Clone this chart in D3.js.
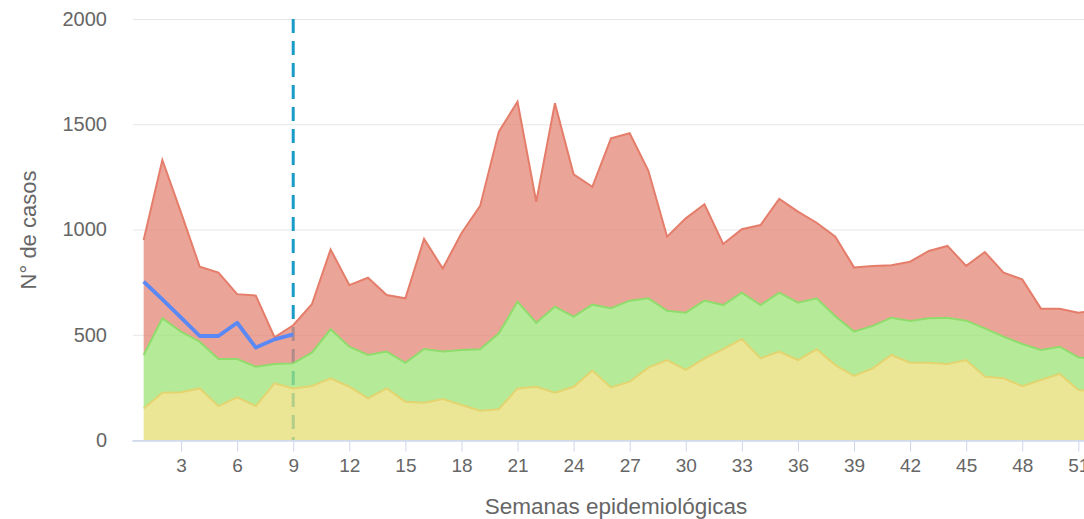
<!DOCTYPE html>
<html>
<head>
<meta charset="utf-8">
<script src="https://cdn.jsdelivr.net/npm/d3@7"></script>
<style>
  body { margin: 0; background: #fff; overflow: hidden; }
  svg { display: block; font-family: "Liberation Sans", Arial, sans-serif; }
</style>
</head>
<body>
<svg id="chart"></svg>
<script>
// semanas 1..52
const weeks = d3.range(1, 53)

// zona de exito (amarillo), seguridad (verde), alarma (rojo)
const exito = [150,225,227,245,161,203,161,269,245,256, 293,253,198,245,182,177,195,166,139,146,
  245,253,225,253,330,250,277,344,380,333, 388,432,480,388,420,380,431,356,304,340,
  404,367,367,361,380,301,293,256,285,314, 238,228]
const seguridad = [404,578,515,467,385,385,348,361,364,415, 526,443,404,420,367,432,420,428,431,507,
  657,557,633,586,643,626,662,673,614,605, 662,641,700,641,700,652,673,588,515,542,
  581,565,578,581,567,530,491,456,428,443, 393,382]
const alarma = [950,1330,1080,823,795,693,686,488,545,645, 905,736,771,689,673,955,815,982,1112,1465,
  1607,1132,1600,1262,1203,1433,1457,1279,966,1053, 1120,931,1001,1021,1145,1085,1032,966,820,827,
  830,847,898,922,827,893,795,763,624,624, 605,615]

// casos del año actual
const casosWeeks = [1,2,3,4,5,6,7,8,9]
const casos = [752,668,581,494,494,557,439,478,502]

const xTicks = [3,6,9,12,15,18,21,24,27,30,33,36,39,42,45,48,51]
const yTicks = [0,500,1000,1500,2000]
const semanaActual = 9

let width = 1084
let height = 519

let svg = d3.select('#chart').attr('width', width).attr('height', height)

let xScale = d3.scaleLinear().domain([0.36, 52.64]).range([131.7, 1109])
let yScale = d3.scaleLinear().domain([0, 2000]).range([440, 19])

// grid + y labels
let yAxis = d3.axisLeft(yScale)
  .tickValues(yTicks)
  .tickSizeInner(-(1109 - 133))
  .tickSizeOuter(0)
  .tickPadding(26)
  .tickFormat(d3.format('d'))

let gy = svg.append('g')
  .attr('transform', 'translate(133,0)')
  .call(yAxis)
gy.select('.domain').remove()
gy.selectAll('line').attr('stroke', '#e6e6e6')
gy.selectAll('text')
  .attr('fill', '#666')
  .style('font-size', '20px')

// dashed marker for current week
svg.append('line')
  .attr('x1', xScale(semanaActual)).attr('x2', xScale(semanaActual))
  .attr('y1', yScale(2000)).attr('y2', yScale(0))
  .attr('stroke', '#1b9bc8')
  .attr('stroke-width', 3)
  .attr('stroke-dasharray', '14,8')

let bands = [
  { lo: seguridad, hi: alarma, fill: '#e48575', stroke: '#e57d6b' },
  { lo: exito, hi: seguridad, fill: '#9ce377', stroke: '#8fdc6c' },
  { lo: null, hi: exito, fill: '#e4dd72', stroke: '#e3d470' }
]

bands.forEach(b => {
  let area = d3.area()
    .x((d, i) => xScale(weeks[i]))
    .y0((d, i) => yScale(b.lo ? b.lo[i] : 0))
    .y1((d, i) => yScale(b.hi[i]))
  svg.append('path')
    .datum(b.hi)
    .attr('d', area)
    .attr('fill', b.fill)
    .attr('fill-opacity', 0.75)

  let line = d3.line()
    .x((d, i) => xScale(weeks[i]))
    .y(d => yScale(d))
  svg.append('path')
    .datum(b.hi)
    .attr('d', line)
    .attr('fill', 'none')
    .attr('stroke', b.stroke)
    .attr('stroke-width', 2)
})

// x axis
let xAxis = d3.axisBottom(xScale)
  .tickValues(xTicks)
  .tickSizeInner(11)
  .tickSizeOuter(0)
  .tickPadding(7)

let gx = svg.append('g')
  .attr('transform', 'translate(0,440.5)')
  .call(xAxis)
gx.select('.domain').attr('stroke', '#ccd6eb').attr('stroke-width', 1.5)
gx.selectAll('line').attr('stroke', '#ccd6eb')
gx.selectAll('text')
  .attr('fill', '#666')
  .style('font-size', '19px')

// current year cases
svg.append('path')
  .datum(casos)
  .attr('d', d3.line().x((d, i) => xScale(casosWeeks[i])).y(d => yScale(d)))
  .attr('fill', 'none')
  .attr('stroke', '#5a88f5')
  .attr('stroke-width', 3.8)
  .attr('stroke-linejoin', 'round')

// axis titles
svg.append('text')
  .attr('x', 616)
  .attr('y', 514)
  .attr('text-anchor', 'middle')
  .attr('fill', '#666')
  .style('font-size', '22.5px')
  .text('Semanas epidemiológicas')

svg.append('text')
  .attr('transform', 'translate(36,230) rotate(-90)')
  .attr('text-anchor', 'middle')
  .attr('fill', '#666')
  .style('font-size', '22px')
  .text('N° de casos')
</script>
</body>
</html>
